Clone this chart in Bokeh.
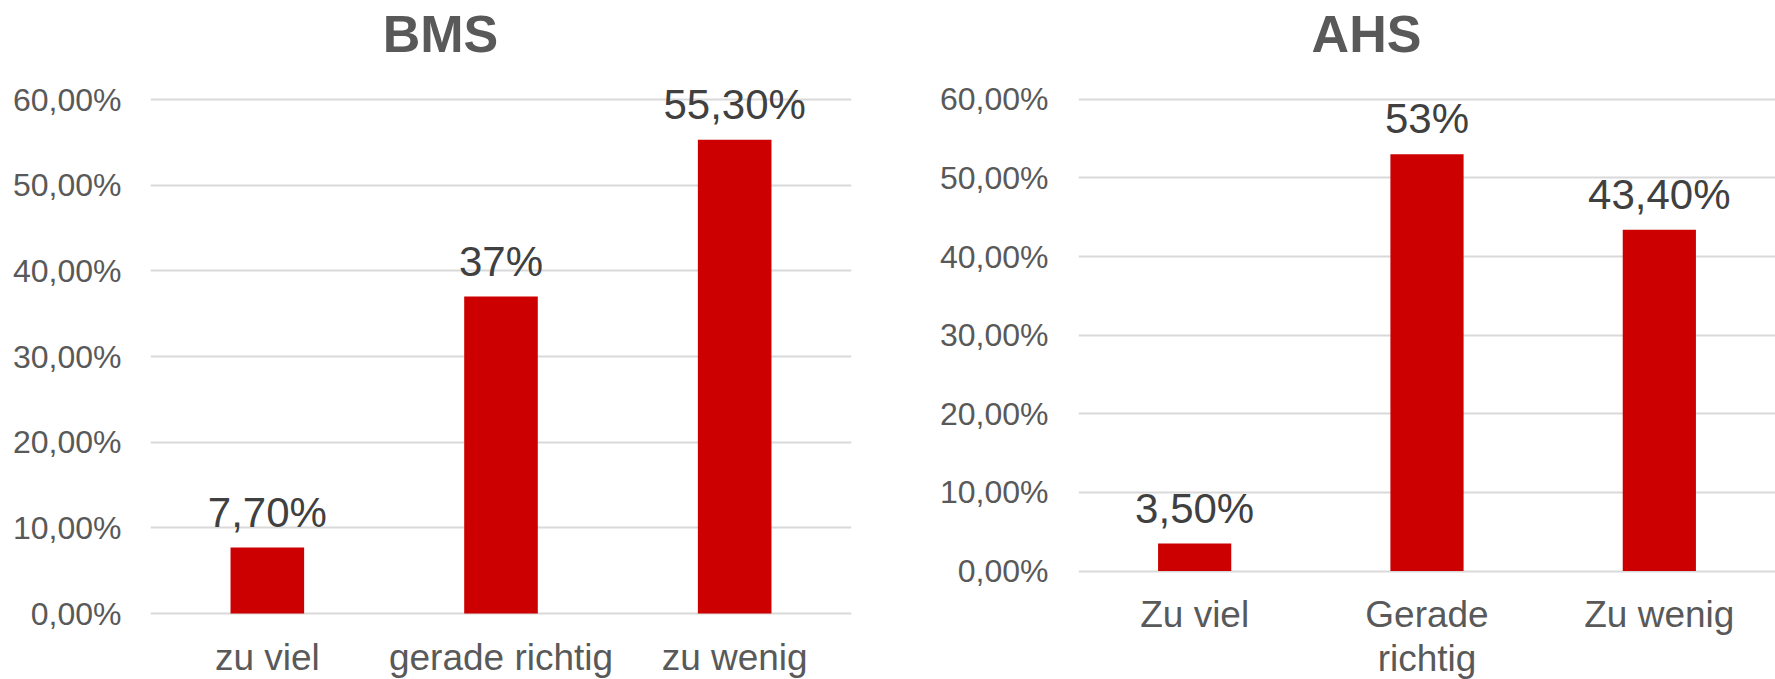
from bokeh.plotting import figure
from bokeh.models import Range1d, FixedTicker, LabelSet, Label, ColumnDataSource
from bokeh.core.properties import value
from bokeh.layouts import row
from bokeh.embed import file_html
from bokeh.resources import INLINE

# ---- data ----
bms_title = "BMS"
bms_categories = ["zu viel", "gerade richtig", "zu wenig"]
bms_values = [0.077, 0.37, 0.553]
bms_labels = ["7,70%", "37%", "55,30%"]

ahs_title = "AHS"
ahs_categories = ["Zu viel", "Gerade\nrichtig", "Zu wenig"]
ahs_values = [0.035, 0.53, 0.434]
ahs_labels = ["3,50%", "53%", "43,40%"]

y_ticks = [0.0, 0.1, 0.2, 0.3, 0.4, 0.5, 0.6]
y_tick_labels = ["0,00%", "10,00%", "20,00%", "30,00%", "40,00%", "50,00%", "60,00%"]

# ---- styles ----
FONT = "Liberation Sans"
BAR_COLOR = "#CC0000"
GRID_COLOR = "#D9D9D9"
AXIS_TEXT = "#595959"
LABEL_TEXT = "#404040"


def make_chart(title, cats, vals, labels, width, height, frame_left, frame_right,
               zero_px, top_tick_px, cat_px, y_standoff, title_px):
    n = len(cats)
    frame_w = frame_right - frame_left
    # pixels per unit value
    ppu = (zero_px - top_tick_px) / y_ticks[-1]
    y_start = -(height - zero_px) / ppu
    y_end = zero_px / ppu
    x_end = frame_w / cat_px

    p = figure(width=width, height=height, output_backend="svg", toolbar_location=None,
               x_range=Range1d(0, x_end), y_range=Range1d(y_start, y_end),
               min_border_left=frame_left, min_border_right=width - frame_right,
               min_border_top=0, min_border_bottom=0)
    p.outline_line_color = None
    p.background_fill_color = "white"
    p.border_fill_color = "white"

    centers = [i + 0.5 for i in range(n)]
    src = ColumnDataSource(dict(x=centers, top=vals, label=labels))
    p.vbar(x="x", top="top", bottom=0, width=0.315, source=src,
           fill_color=BAR_COLOR, line_color=None)

    # y axis
    yax = p.yaxis[0]
    yax.ticker = FixedTicker(ticks=y_ticks)
    yax.major_label_overrides = {t: l for t, l in zip(y_ticks, y_tick_labels)}
    yax.axis_line_color = None
    yax.major_tick_line_color = None
    yax.minor_tick_line_color = None
    yax.major_tick_out = 0
    yax.major_tick_in = 0
    yax.major_label_standoff = y_standoff
    yax.major_label_text_font = FONT
    yax.major_label_text_font_size = "32px"
    yax.major_label_text_color = AXIS_TEXT

    # x axis
    xax = p.xaxis[0]
    xax.ticker = FixedTicker(ticks=centers)
    xax.major_label_overrides = {c: l for c, l in zip(centers, cats)}
    xax.fixed_location = 0
    xax.axis_line_color = None
    xax.major_tick_line_color = None
    xax.minor_tick_line_color = None
    xax.major_tick_out = 0
    xax.major_tick_in = 0
    xax.major_label_standoff = 23
    xax.major_label_text_font = FONT
    xax.major_label_text_font_size = "37px"
    xax.major_label_text_color = AXIS_TEXT
    xax.major_label_text_line_height = 1.07

    p.xgrid.visible = False
    p.ygrid.grid_line_color = GRID_COLOR
    p.ygrid.grid_line_width = 2

    ls = LabelSet(x="x", y="top", text="label", source=src, y_offset=21,
                  text_align="center", text_baseline="alphabetic",
                  text_font=value(FONT), text_font_size=value("42px"),
                  text_color=LABEL_TEXT)
    p.add_layout(ls)

    t = Label(x=(title_px[0] - frame_left) / cat_px, y=(zero_px - title_px[1]) / ppu,
              text=title, text_align="center", text_baseline="middle",
              text_font=FONT, text_font_size="52px", text_font_style="bold",
              text_color=AXIS_TEXT)
    p.add_layout(t)
    return p


# canvas-relative layout
p1 = make_chart(bms_title, bms_categories, bms_values, bms_labels,
                width=880, height=679, frame_left=150, frame_right=851,
                zero_px=613, top_tick_px=99, cat_px=701 / 3, y_standoff=29,
                title_px=(440, 33))
p2 = make_chart(ahs_title, ahs_categories, ahs_values, ahs_labels,
                width=895, height=679, frame_left=198, frame_right=895,
                zero_px=570.6, top_tick_px=98.7, cat_px=697 / 3, y_standoff=30,
                title_px=(486, 33))

layout = row(p1, p2)
open("out.html", "w").write(file_html(layout, INLINE))
